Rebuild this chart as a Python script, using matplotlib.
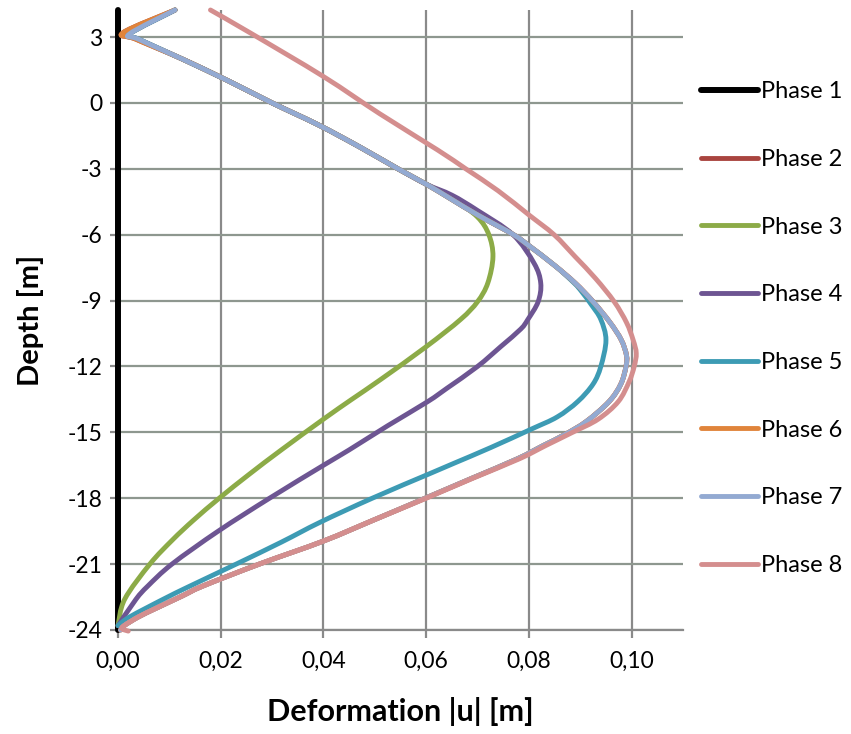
import matplotlib
matplotlib.use("Agg")
import numpy as np
import matplotlib.pyplot as plt
from matplotlib.ticker import FuncFormatter, FixedLocator
from matplotlib.path import Path
from matplotlib.patches import PathPatch
from matplotlib.lines import Line2D

plt.rcParams['font.family'] = ['Lato', 'DejaVu Sans']
plt.rcParams['axes.unicode_minus'] = False

# ---- data (deformation [m], depth [m]) ----
phase_names = ["Phase 1", "Phase 2", "Phase 3", "Phase 4", "Phase 5", "Phase 6", "Phase 7", "Phase 8"]
phase_colors = ["#000000", "#A9443F", "#8CAB47", "#6D5592", "#3D9BB4", "#E0843B", "#93AAD2", "#D48E8E"]

p1_u = [0.0, 0.0]
p1_d = [-24.0, 4.23]

# upper part shared by phases 3-7
top_u = [0.0111, 0.0023, 0.0040, 0.0125, 0.0215, 0.0300, 0.0390, 0.0470, 0.0545, 0.0600]
top_d = [4.23, 3.15, 2.90, 2.00, 1.00, 0.00, -1.00, -2.00, -3.00, -3.70]

p7_u = top_u + [0.0650, 0.0700, 0.0770, 0.0800, 0.0850, 0.0890, 0.0925, 0.0958, 0.0980,
                0.0990, 0.0989, 0.0979, 0.0956, 0.0912, 0.0870, 0.0828, 0.0778, 0.0688,
                0.0598, 0.0497, 0.0400, 0.0275, 0.0165, 0.0125, 0.0075, 0.0040,
                0.0012, 0.0005]
p7_d = top_d + [-4.40, -5.10, -6.00, -6.50, -7.40, -8.20, -9.05, -10.00, -10.80,
                -11.50, -12.00, -12.80, -13.60, -14.50, -15.10, -15.60, -16.20, -17.10,
                -18.00, -19.00, -19.95, -21.00, -22.00, -22.45, -23.00, -23.40,
                -23.80, -24.00]

p6_u = [0.0111, 0.0010, 0.0035] + p7_u[3:]
p6_d = [4.23, 3.20, 2.90] + p7_d[3:]

p2_u = list(p6_u)
p2_d = list(p6_d)

p3_u = top_u + [0.0654, 0.0700, 0.0722, 0.0730, 0.0720, 0.0700, 0.0667, 0.0600, 0.0511,
                0.0455, 0.0400, 0.0318, 0.0256, 0.0197, 0.0147, 0.0106, 0.0062, 0.0013, 0.0000]
p3_d = top_d + [-4.40, -5.20, -6.00, -7.00, -8.20, -9.05, -9.86, -11.10, -12.60,
                -13.50, -14.40, -15.80, -16.90, -18.00, -19.00, -19.90, -21.00, -22.60, -23.80]

p4_u = top_u + [0.0650, 0.0700, 0.0769, 0.0810, 0.0823, 0.0818, 0.0798, 0.0784, 0.0745,
                0.0700, 0.0640, 0.0603, 0.0525, 0.0450, 0.0400, 0.0295, 0.0195, 0.0105,
                0.0058, 0.0035, 0.0000]
p4_d = top_d + [-4.20, -4.90, -6.00, -7.30, -8.20, -9.05, -9.86, -10.30, -11.10,
                -12.00, -13.00, -13.60, -14.70, -15.80, -16.50, -18.00, -19.50, -21.00,
                -22.00, -22.60, -23.80]

p5_u = top_u + [0.0650, 0.0700, 0.0770, 0.0800, 0.0850, 0.0888, 0.0903, 0.0922, 0.0940,
                0.0950, 0.0940, 0.0925, 0.0895, 0.0855, 0.0805, 0.0725, 0.0655, 0.0605,
                0.0495, 0.0393, 0.0318, 0.0230, 0.0140, 0.0088, 0.0023, 0.0000]
p5_d = top_d + [-4.40, -5.10, -6.00, -6.50, -7.40, -8.20, -8.60, -9.20, -9.86,
                -10.80, -12.00, -12.80, -13.60, -14.30, -14.85, -15.70, -16.40, -16.90,
                -18.00, -19.10, -20.00, -21.00, -22.00, -22.60, -23.40, -23.80]

p8_u = [0.0180, 0.0258, 0.0400, 0.0510, 0.0622, 0.0677, 0.0740, 0.0800, 0.0849, 0.0890,
        0.0930, 0.0966, 0.0990, 0.1003, 0.1009, 0.1005, 0.0995, 0.0974, 0.0935, 0.0885,
        0.0833, 0.0782, 0.0690, 0.0600, 0.0497, 0.0400, 0.0275, 0.0165, 0.0125,
        0.0075, 0.0040, 0.0012, 0.0008, 0.0020]
p8_d = [4.23, 3.18, 1.20, -0.50, -2.14, -3.00, -4.00, -5.10, -6.00, -7.00,
        -8.00, -9.05, -10.00, -10.80, -11.40, -12.00, -12.70, -13.60, -14.40, -15.00,
        -15.60, -16.20, -17.10, -18.00, -19.00, -19.95, -21.00, -22.00, -22.45,
        -23.00, -23.40, -23.80, -23.95, -24.05]

series_u = [p1_u, p2_u, p3_u, p4_u, p5_u, p6_u, p7_u, p8_u]
series_d = [p1_d, p2_d, p3_d, p4_d, p5_d, p6_d, p7_d, p8_d]

x_ticks = [0.00, 0.02, 0.04, 0.06, 0.08, 0.10]
y_ticks = [3, 0, -3, -6, -9, -12, -15, -18, -21, -24]


def smooth_path(u, d):
    """Smoothed (Catmull-Rom / Bezier) path through the data points, like a spreadsheet 'smoothed line'."""
    pts = np.column_stack([u, d]).astype(float)
    n = len(pts)
    if n < 3:
        return Path(pts)
    verts = [pts[0]]
    codes = [Path.MOVETO]
    for i in range(n - 1):
        p0 = pts[i - 1] if i > 0 else pts[i]
        p1 = pts[i]
        p2 = pts[i + 1]
        p3 = pts[i + 2] if i + 2 < n else pts[i + 1]
        c1 = p1 + (p2 - p0) / 6.0
        c2 = p2 - (p3 - p1) / 6.0
        verts += [c1, c2, p2]
        codes += [Path.CURVE4] * 3
    return Path(np.array(verts), codes)


# ---- figure ----
fig = plt.figure(figsize=(8.51, 7.34), dpi=100)
ax = fig.add_axes([118/851, 1 - 630/734, (683-118)/851, (630-10)/734])

ax.set_xlim(0, 0.11)
ax.set_ylim(-24, 4.23)

grid_col = "#8A8A8A"
ax.xaxis.set_major_locator(FixedLocator(x_ticks))
ax.yaxis.set_major_locator(FixedLocator(y_ticks))
ax.grid(True, axis='x', color=grid_col, linewidth=1.6, zorder=0)
ax.grid(True, axis='y', color="#8E978F", linewidth=1.6, zorder=0)
ax.set_axisbelow(True)

for s in ['top', 'right', 'left']:
    ax.spines[s].set_visible(False)
ax.spines['bottom'].set_color(grid_col)
ax.spines['bottom'].set_linewidth(1.6)

ax.tick_params(axis='both', direction='out', length=6, width=1.6, color=grid_col,
               labelsize=16.5, labelcolor='black')
ax.tick_params(axis='x', pad=9)
ax.tick_params(axis='y', pad=5)
ax.xaxis.set_major_formatter(FuncFormatter(lambda v, p: f"{v:.2f}".replace('.', ',')))
ax.yaxis.set_major_formatter(FuncFormatter(lambda v, p: f"{int(round(v))}"))

handles = []
for i, (u, d) in enumerate(zip(series_u, series_d)):
    lw = 4.3 if i == 0 else 3.5
    patch = PathPatch(smooth_path(u, d), facecolor='none', edgecolor=phase_colors[i],
                      linewidth=lw, capstyle='round', joinstyle='round',
                      transform=ax.transData, zorder=3 + i, clip_on=False)
    ax.add_patch(patch)
    handles.append(Line2D([], [], color=phase_colors[i], linewidth=lw,
                          solid_capstyle='round', label=phase_names[i]))

ax.set_xlabel("Deformation |u| [m]", fontsize=22, fontweight='bold', labelpad=18)
ax.set_ylabel("Depth [m]", fontsize=21, fontweight='bold', labelpad=17)

leg = fig.legend(handles=handles, loc='upper left', bbox_to_anchor=(692/851, 1 - 72/734),
                 frameon=False, fontsize=17, handlelength=2.41, handletextpad=0.1,
                 labelspacing=1.975, borderaxespad=0)

fig.savefig("out.png", dpi=100)
